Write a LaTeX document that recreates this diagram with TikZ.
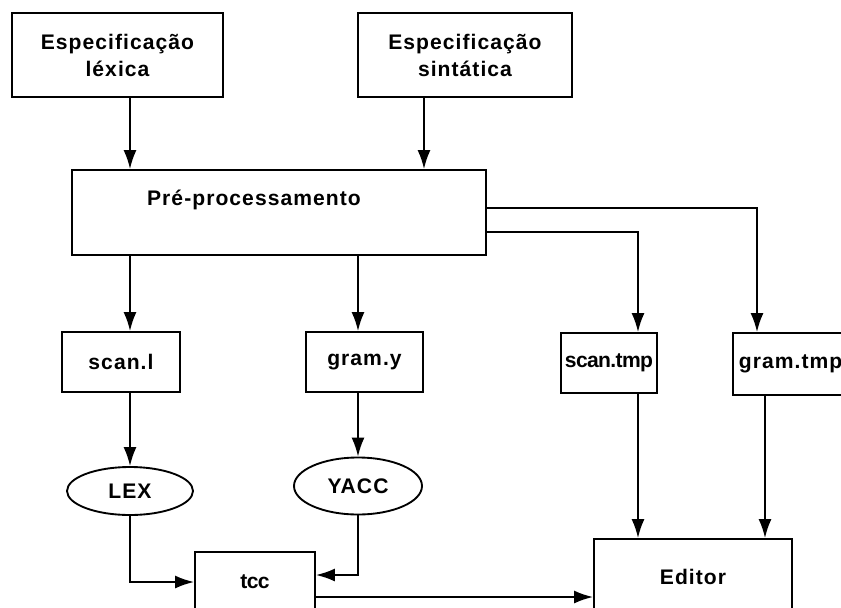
\documentclass[tikz,border=0pt]{standalone}
\usepackage{fontspec}
\setmainfont{Liberation Sans}[LetterSpace=5]
\usetikzlibrary{arrows.meta,shapes.geometric}

\tikzset{
  box/.style={draw, line width=1.6pt, fill=white, inner sep=0pt, align=center},
  oval/.style={ellipse, draw, line width=1.6pt, fill=white, inner sep=0pt},
  lbl/.style={inner sep=0pt, align=center},
  tight/.style={font=\bfseries\fontsize{18}{23}\selectfont\addfontfeature{LetterSpace=-3}},
  arr/.style={line width=1.6pt, -{Latex[length=5.7mm,width=3.9mm]}}
}

\begin{document}
\begin{tikzpicture}[x=0.3mm, y=-0.3mm,
  every node/.style={font=\bfseries\fontsize{18}{23}\selectfont}]
\useasboundingbox (0,0) rectangle (841,607);
\clip (0,0) rectangle (841,607);

% specifications
\node[box, minimum width=63.3mm, minimum height=25.2mm] (lexspec) at (117.5,55) {Especificação\\léxica};
\node[box, minimum width=64.2mm, minimum height=25.2mm] (synspec) at (465,55) {Especificação\\sintática};

% pre-processing
\node[box, minimum width=124.2mm, minimum height=25.5mm] (pre) at (279,212.5) {};
\node[lbl] (pretxt) at (254,200) {Pré-processamento};

% generated files
\node[box, minimum width=35.4mm, minimum height=18mm] (scanl) at (121,362) {scan.l};
\node[box, minimum width=35.1mm, minimum height=18mm] (gramy) at (364.5,362) {gram.y};
\node[box, tight, minimum width=28.8mm, minimum height=18mm] (scantmp) at (609,363) {scan.tmp};
\node[box, anchor=west, text width=34.8mm, inner xsep=1.8mm, align=left, minimum height=18.6mm] (gramtmp) at (732,364) {gram.tmp};

% tools
\node[oval, minimum width=37.8mm, minimum height=14.4mm] (lex) at (130,491) {LEX};
\node[oval, minimum width=38.4mm, minimum height=17.1mm] (yacc) at (358,486) {YACC};

% results
\node[box, tight, minimum width=36mm, minimum height=18mm] (tcc) at (255,582) {tcc};
\node[box, minimum width=59.4mm, minimum height=22.8mm] (editor) at (693,577) {Editor};

\coordinate (synx) at (424,130);
\coordinate (c1) at (638,232);
\coordinate (c2) at (757,208);
\coordinate (c3) at (765,450);
\path ([yshift=-4.5mm]tcc.east) coordinate (tccout);

\draw[arr] (lexspec.south -| lex) -- (pre.north -| lex);
\draw[arr] (synspec.south -| synx) -- (pre.north -| synx);
\draw[arr] (pre.south -| lex) -- (scanl.north -| lex);
\draw[arr] (pre.south -| yacc) -- (gramy.north -| yacc);
\draw[arr] (pre.east |- c1) -| (scantmp.north -| c1);
\draw[arr] (pre.east |- c2) -| (gramtmp.north -| c2);
\draw[arr] (scanl.south -| lex) -- (lex.north);
\draw[arr] (gramy.south -| yacc) -- (yacc.north);
\draw[arr] (lex.south) |- (tcc.west);
\draw[arr] (yacc.south) |- ([yshift=2.1mm]tcc.east);
\draw[arr] (tccout) -- (tccout -| editor.west);
\draw[arr] (scantmp.south -| c1) -- (editor.north -| c1);
\draw[arr] (gramtmp.south -| c3) -- (editor.north -| c3);

\end{tikzpicture}
\end{document}
